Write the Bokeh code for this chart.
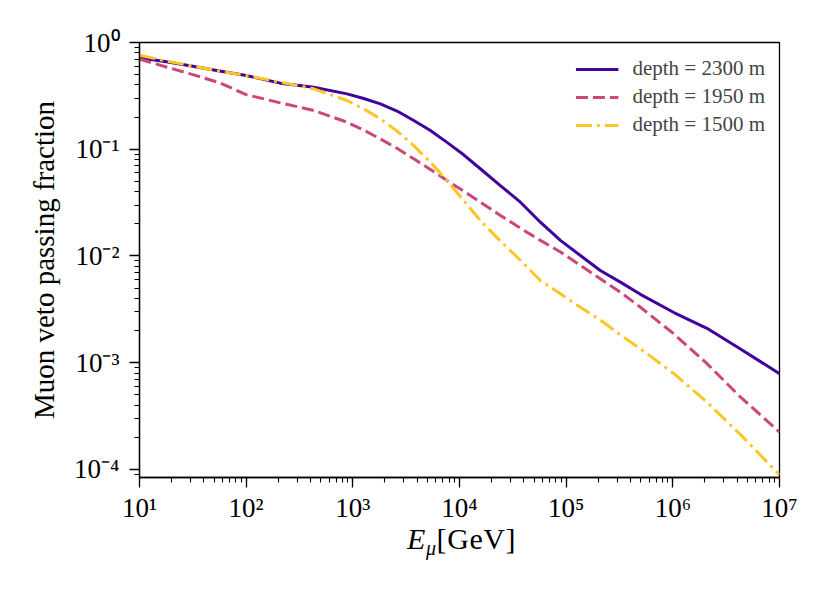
from bokeh.plotting import figure
from bokeh.models import (Range1d, LogTicker, CustomJSTickFormatter, Legend,
                          LegendItem, Div)
from bokeh.layouts import column
from bokeh.embed import file_html
from bokeh.resources import INLINE

# ---- data ----
energy_gev = [10, 17.8, 31.6, 56.2, 100,
              209, 430, 883, 1265, 1811, 2594, 3724, 5333, 7638,
              10940, 15670, 24150, 37240, 57280, 88310,
              135800, 208900, 322100, 496600, 1023000, 2089000, 4266000, 10000000]

frac_2300 = [0.72, 0.66, 0.60, 0.54, 0.49,
             0.416, 0.381, 0.330, 0.299, 0.266, 0.228, 0.186, 0.150, 0.116,
             0.0887, 0.0656, 0.0457, 0.0319, 0.0207, 0.0140,
             0.0101, 0.00731, 0.00569, 0.00437, 0.00295, 0.0021, 0.00135, 0.00079]

frac_1950 = [0.70, 0.59, 0.50, 0.42, 0.325,
             0.272, 0.231, 0.179, 0.151, 0.125, 0.102, 0.0813, 0.0646, 0.0509,
             0.0405, 0.0319, 0.0240, 0.0182, 0.0140, 0.0109,
             0.00815, 0.00611, 0.00458, 0.00331, 0.00186, 0.00098, 0.00048, 0.000224]

frac_1500 = [0.76, 0.67, 0.60, 0.54, 0.49,
             0.425, 0.368, 0.286, 0.239, 0.193, 0.148, 0.108, 0.0757, 0.0509,
             0.0331, 0.0215, 0.0138, 0.00912, 0.00589, 0.00442,
             0.00331, 0.00251, 0.00182, 0.00135, 0.00079, 0.000427, 0.000214, 0.000089]

series_labels = ["depth = 2300 m", "depth = 1950 m", "depth = 1500 m"]
series_colors = ["#40049d", "#cc4778", "#fdc626"]
series_dashes = ["solid", "12 5", "16 5 3 5"]

X_MIN, X_MAX = 10, 1e7
Y_MIN, Y_MAX = 8.4e-5, 1.0

SERIF = "Liberation Serif"

p = figure(width=822, height=527,
           x_axis_type="log", y_axis_type="log",
           x_range=Range1d(X_MIN, X_MAX), y_range=Range1d(Y_MIN, Y_MAX),
           output_backend="svg", toolbar_location=None,
           min_border_left=139, min_border_right=43,
           min_border_top=42, min_border_bottom=50)

p.xgrid.visible = False
p.ygrid.visible = False
p.outline_line_color = "black"
p.outline_line_width = 1.3
p.background_fill_color = "white"
p.border_fill_color = "white"

sup_js = """
const sup = {'0':'\u2070','1':'\u00b9','2':'\u00b2','3':'\u00b3','4':'\u2074',
             '5':'\u2075','6':'\u2076','7':'\u2077','8':'\u2078','9':'\u2079','-':'\u207b'};
const e = Math.round(Math.log10(tick));
return '10' + String(e).split('').map(c => sup[c]).join('');
"""

for ax in (p.xaxis[0], p.yaxis[0]):
    ax.ticker = LogTicker(num_minor_ticks=10)
    ax.formatter = CustomJSTickFormatter(code=sup_js)
    ax.axis_line_width = 1.3
    ax.major_tick_line_width = 1.3
    ax.minor_tick_line_width = 1.1
    ax.major_tick_in = 0
    ax.major_tick_out = 10
    ax.minor_tick_in = 0
    ax.minor_tick_out = 5
    ax.major_label_text_font = SERIF
    ax.major_label_text_font_size = "27px"
    ax.major_label_text_color = "black"
    ax.axis_label_text_font = SERIF
    ax.axis_label_text_font_size = "29px"
    ax.axis_label_text_font_style = "normal"
    ax.axis_label_text_color = "black"

p.yaxis[0].axis_label = "Muon veto passing fraction"
p.yaxis[0].major_label_standoff = 10
p.yaxis[0].axis_label_standoff = 11
p.xaxis[0].major_label_standoff = 5

renderers = []
for ys, col, dash in zip([frac_2300, frac_1950, frac_1500], series_colors, series_dashes):
    r = p.line(energy_gev, ys, line_color=col, line_width=3, line_dash=dash,
               line_join="round")
    renderers.append(r)

legend = Legend(items=[LegendItem(label=l, renderers=[r]) for l, r in zip(series_labels, renderers)],
                location="top_right", border_line_alpha=0, background_fill_alpha=0,
                label_text_font=SERIF, label_text_font_size="21px",
                glyph_width=43, glyph_height=20, label_height=20, label_standoff=14,
                spacing=3, padding=9, margin=5)
p.add_layout(legend)

# x-axis title  E_mu [GeV]  (HTML text, directly under the plot)
x_title = Div(
    text=('<div style="font-family:\'Liberation Serif\';font-size:30px;line-height:24px;'
          'letter-spacing:0.6px;padding-left:407px;color:black;white-space:nowrap;">'
          '<i>E</i><span style="font-size:20px;font-style:italic;position:relative;top:6px;">'
          '\u03bc</span>[GeV]</div>'),
    width=822, height=50, margin=0)

layout = column(p, x_title, spacing=0)

open("out.html", "w").write(file_html(layout, INLINE))
